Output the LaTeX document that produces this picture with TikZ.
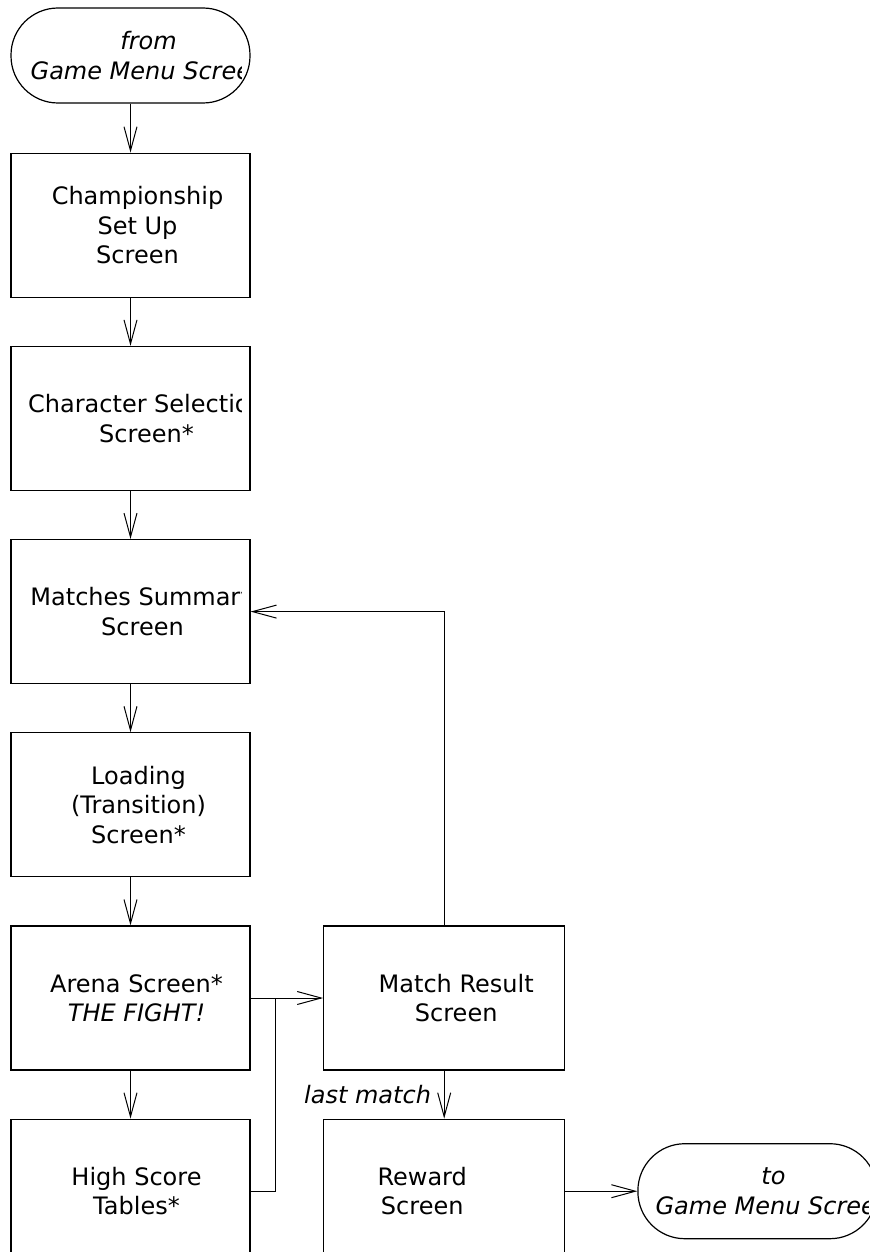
\documentclass[tikz,border=0pt]{standalone}
\usepackage{fontspec}
\setmainfont{DejaVu Sans}
\usetikzlibrary{arrows.meta,positioning}

\tikzset{
  screen/.style={draw, line width=0.6pt, minimum width=119.5pt, minimum height=72pt, inner sep=0pt},
  term/.style={draw, line width=0.6pt, rounded corners=23.5pt, minimum width=119.5pt, minimum height=47.5pt, inner sep=0pt},
  caption/.style={align=center, inner sep=0pt},
  arr/.style={-{Straight Barb[length=12pt, width=6.5pt]}, line width=0.5pt},
  lbl/.style={font=\fontsize{12pt}{14.7pt}\selectfont\itshape},
}
% text of a box, cut off at the box's inner edges
\newcommand{\boxtext}[3]{%
  \begin{scope}
    \clip ([xshift=4.5pt]#1.south west) rectangle ([xshift=-4.5pt]#1.north east);
    \node[caption] (#1Text) at ([xshift=#2]#1.center) {#3};
  \end{scope}}

\begin{document}
\begin{tikzpicture}[x=0.5pt, y=-0.5pt, font=\fontsize{12pt}{14.7pt}\selectfont]
  \useasboundingbox (0,0) rectangle (870,1252);
  \clip (0,0) rectangle (870,1252);

  %%%%% left column %%%%%
  \node[term] (fromMenu) at (130.5,55.5) {};
  \node[screen, below=24.5pt of fromMenu] (champ) {};
  \node[screen, below=24pt of champ] (charSel) {};
  \node[screen, below=24pt of charSel] (summary) {};
  \node[screen, below=24pt of summary] (loading) {};
  \node[screen, below=24pt of loading] (arena) {};
  \node[screen, below=24pt of arena] (hiScore) {};

  %%%%% right column %%%%%
  \node[screen, minimum width=120.5pt, right=36.25pt of arena] (result) {};
  \node[screen, minimum width=120.5pt, below=24pt of result] (reward) {};
  \node[term, right=36pt of reward] (toMenu) {};

  %%%%% texts %%%%%
  \boxtext{fromMenu}{9pt}{\textit{from}\\\textit{Game Menu Screen}}
  \boxtext{champ}{3.5pt}{Championship\\Set Up\\Screen}
  \boxtext{charSel}{8pt}{Character Selection\\Screen*}
  \boxtext{summary}{6pt}{Matches Summary\\Screen}
  \boxtext{loading}{4pt}{Loading\\(Transition)\\Screen*}
  \boxtext{arena}{3pt}{Arena Screen*\\\textit{THE FIGHT!}}
  \boxtext{hiScore}{3pt}{High Score\\Tables*}
  \boxtext{result}{6pt}{Match Result\\Screen}
  \boxtext{reward}{-11pt}{Reward\\Screen}
  \boxtext{toMenu}{8pt}{\textit{to}\\\textit{Game Menu Screen}}

  %%%%% connectors %%%%%
  \foreach \a/\b in {fromMenu/champ, champ/charSel, charSel/summary, summary/loading, loading/arena, arena/hiScore}
    \draw[arr] (\a) -- (\b);

  \draw[arr] (arena) -- (result);
  \path (arena.east) -- (result.west) coordinate[pos=0.345] (join);
  \draw[line width=0.5pt] (hiScore.east) -| (join);
  \draw[arr] (result.north) |- (summary.east);
  \draw[arr] (result) -- node[left=3pt, lbl] {last match} (reward);
  \draw[arr] (reward) -- (toMenu);
\end{tikzpicture}
\end{document}
